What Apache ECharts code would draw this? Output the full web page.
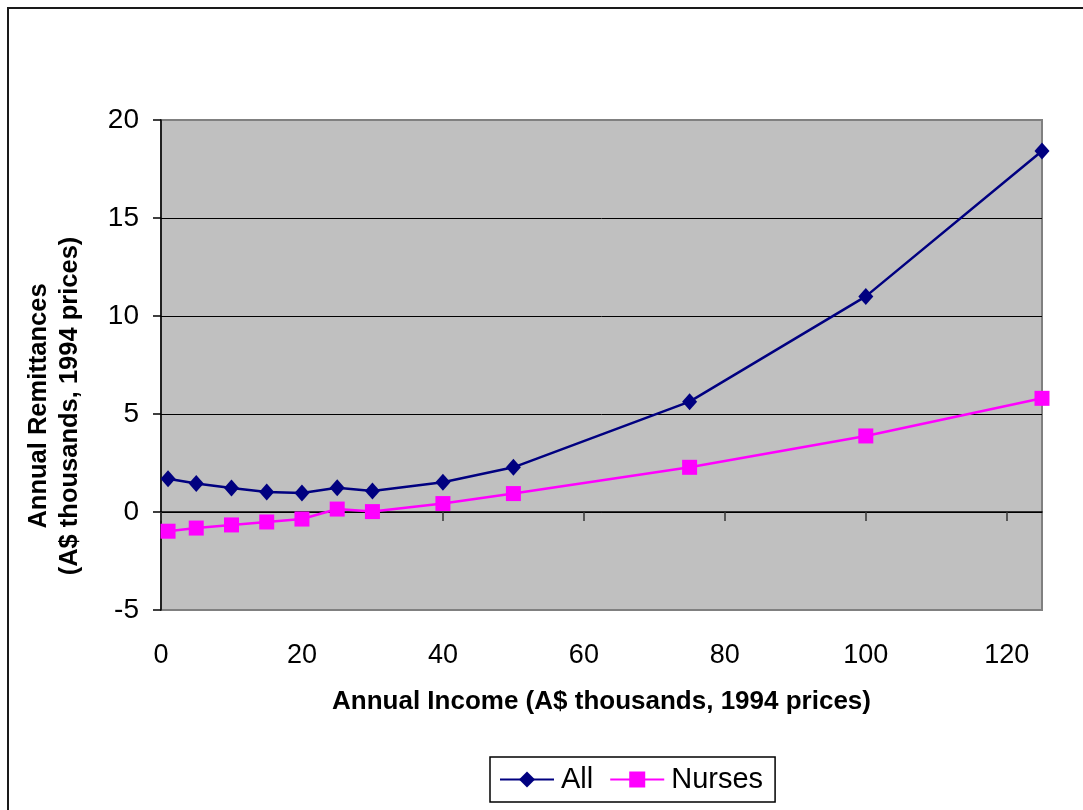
<!DOCTYPE html>
<html>
<head>
<meta charset="utf-8">
<title>Annual Remittances by Annual Income</title>
<script src="https://cdn.jsdelivr.net/npm/echarts@6/dist/echarts.min.js"></script>
<style>
  html, body { margin: 0; padding: 0; background: #ffffff; }
  #chart { width: 1083px; height: 810px; }
</style>
</head>
<body>
<div id="chart"></div>
<script>
// Annual income, A$ thousands (1994 prices)
const income = [1, 5, 10, 15, 20, 25, 30, 40, 50, 75, 100, 125];
// Annual remittances, A$ thousands (1994 prices)
const allRemit = [1.70, 1.45, 1.22, 1.02, 0.97, 1.24, 1.07, 1.52, 2.28, 5.63, 11.0, 18.42];
const nursesRemit = [-0.98, -0.82, -0.66, -0.51, -0.36, 0.15, 0.02, 0.43, 0.94, 2.28, 3.88, 5.80];
// Axis ticks
const xTicks = [0, 20, 40, 60, 80, 100, 120];
const yTicks = [-5, 0, 5, 10, 15, 20];

const FONT = "'Liberation Sans', Arial, sans-serif";

const pairs = (xs, ys) => xs.map((x, i) => [x, ys[i]]);

const chart = echarts.init(document.getElementById('chart'), null, { renderer: 'canvas' });

chart.setOption({
  animation: false,
  backgroundColor: '#ffffff',
  textStyle: { fontFamily: FONT },
  graphic: [{
    type: 'rect',
    shape: { x: 8, y: 8, width: 1200, height: 1000 },
    style: { fill: 'none', stroke: '#1a1a1a', lineWidth: 2 },
    silent: true,
    z: -10
  }],
  grid: {
    left: 161, top: 120, width: 881, height: 490,
    show: true,
    backgroundColor: '#C0C0C0',
    borderColor: '#808080',
    borderWidth: 2
  },
  legend: {
    left: 490, top: 757,
    orient: 'horizontal',
    padding: [8, 12, 8, 9],
    itemWidth: 54, itemHeight: 20, itemGap: 16,
    borderColor: '#000', borderWidth: 1.5,
    backgroundColor: '#ffffff',
    textStyle: { fontFamily: FONT, fontSize: 29, color: '#000', padding: [0, 0, 0, 2] },
    data: ['All', 'Nurses']
  },
  xAxis: [{
    type: 'value',
    min: 0, max: 125, interval: 20,
    position: 'bottom',
    axisLine: { show: false, onZero: false },
    axisTick: { show: false },
    splitLine: { show: false },
    axisLabel: {
      customValues: xTicks,
      margin: 32,
      fontSize: 27, color: '#000', fontFamily: FONT
    },
    name: 'Annual Income (A$ thousands, 1994 prices)',
    nameLocation: 'middle',
    nameGap: 79,
    nameTextStyle: { fontSize: 26, fontWeight: 'bold', color: '#000', fontFamily: FONT }
  }, {
    // axis line and ticks along the zero line
    type: 'value',
    min: 0, max: 125, interval: 20,
    position: 'top',
    axisLine: { show: true, onZero: true, lineStyle: { color: '#000', width: 1.5 } },
    axisTick: { show: true, inside: true, length: 9, customValues: xTicks, lineStyle: { color: '#333', width: 1.5 } },
    axisLabel: { show: false },
    splitLine: { show: false }
  }],
  yAxis: {
    type: 'value',
    min: -5, max: 20, interval: 5,
    axisLine: { show: true, onZero: false, lineStyle: { color: '#000', width: 1.5 } },
    axisTick: { show: true, length: 8, customValues: yTicks, lineStyle: { color: '#000', width: 1.5 } },
    axisLabel: {
      customValues: yTicks,
      margin: 22,
      fontSize: 28, color: '#000', fontFamily: FONT
    },
    splitLine: { show: true, showMinLine: false, showMaxLine: false, lineStyle: { color: '#000', width: 1 } },
    name: 'Annual Remittances\n(A$ thousands, 1994 prices)',
    nameLocation: 'middle',
    nameRotate: 90,
    nameGap: 76,
    nameTextStyle: {
      fontSize: 25.5, fontWeight: 'bold', color: '#000', fontFamily: FONT,
      lineHeight: 31, align: 'center', padding: [0, 82, 0, 0]
    }
  },
  series: [{
    name: 'All',
    type: 'line',
    xAxisIndex: 0, yAxisIndex: 0,
    data: pairs(income, allRemit),
    symbol: 'diamond', symbolSize: [15, 17],
    lineStyle: { color: '#000080', width: 2.5 },
    itemStyle: { color: '#000080' },
    z: 3
  }, {
    name: 'Nurses',
    type: 'line',
    xAxisIndex: 0, yAxisIndex: 0,
    data: pairs(income, nursesRemit),
    symbol: 'rect', symbolSize: 15,
    lineStyle: { color: '#FF00FF', width: 2.5 },
    itemStyle: { color: '#FF00FF' },
    z: 4
  }]
});
</script>
</body>
</html>
